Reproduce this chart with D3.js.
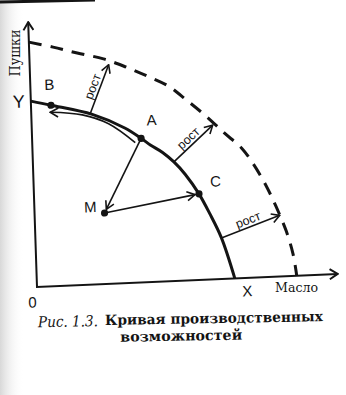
<!DOCTYPE html>
<html>
<head>
<meta charset="utf-8">
<script src="https://cdn.jsdelivr.net/npm/d3@7"></script>
<style>
  html, body { margin: 0; padding: 0; background: #fff; }
  svg { display: block; }
</style>
</head>
<body>
<div id="app"></div>
<script>
// values, in axis units (0 = origin, y up)
const frontierNow = [[0,186],[20,181],[61,170],[93,155],[109,144],[118,137],[130,129],[141,119],[152,106],[165,86],[175,66],[186,41],[198,0]];
const frontierGrowth = [[0,245],[24,239],[48,232],[74,225],[96,216],[117,206],[138,195],[156,180],[175,163],[192,146],[209,130],[220,114],[232,92],[242,69],[251,45],[257,22],[260,0]];
const pointNames = ["B", "A", "C", "M"];
const pointX = [20, 109, 165, 70];
const pointY = [181, 144, 86, 71];
const growthFrom = [[59,171],[141,119],[186,41]];
const growthTo = [[79,219],[181,154],[245,61]];
const shiftAtoB = [[103,140],[77,160],[51,170],[19,174]];
const moves = [["A","M"],["M","C"]];
const axisMax = { x: 301, y: 265 };
const axisNames = { x: "Масло", y: "Пушки" };
const captionLines = ["Кривая производственных", "возможностей"];
const captionPrefix = "Рис. 1.3.";

const W = 346, H = 395;
const ink = "#141414";

const svg = d3.select("#app").append("svg")
    .attr("width", W)
    .attr("height", H);

const defs = svg.append("defs");
// grainy gray edge of the scanned page
const grad = defs.append("linearGradient").attr("id", "edge");
grad.append("stop").attr("offset", "0%").attr("stop-color", "#b8b8b8").attr("stop-opacity", 0.55);
grad.append("stop").attr("offset", "100%").attr("stop-color", "#ffffff").attr("stop-opacity", 0);
svg.append("rect").attr("x", 0).attr("y", 0).attr("width", 24).attr("height", H).attr("fill", "url(#edge)");

function arrowMarker(id, len, half, sw) {
    defs.append("marker")
        .attr("id", id)
        .attr("viewBox", `${-len - 1} ${-half - 1} ${len + 2} ${half * 2 + 2}`)
        .attr("refX", 0).attr("refY", 0)
        .attr("markerUnits", "userSpaceOnUse")
        .attr("markerWidth", len + 2).attr("markerHeight", half * 2 + 2)
        .attr("orient", "auto")
        .append("path")
        .attr("d", `M${-len},${-half}L0,0L${-len},${half}`)
        .attr("fill", "none")
        .attr("stroke", ink)
        .attr("stroke-width", sw)
        .attr("stroke-linejoin", "miter");
}
arrowMarker("axisArrow", 8, 5, 2);
arrowMarker("smallArrow", 8, 4.5, 1.6);

// scan artifact at the top
svg.append("line").attr("x1", 0).attr("y1", 2).attr("x2", 95).attr("y2", 0)
    .attr("stroke", ink).attr("stroke-width", 3);

const x = d3.scaleLinear().domain([0, 300]).range([0, 300]);
const y = d3.scaleLinear().domain([0, 265]).range([0, -265]);

// page is slightly skewed in the scan
const chart = svg.append("g")
    .attr("transform", "matrix(0.9990,-0.0436,0.0332,0.9994,37,287)");

// axes
chart.append("path")
    .attr("d", `M${x(0)},${y(axisMax.y)}L${x(0)},${y(0)}L${x(axisMax.x)},${y(0)}`)
    .attr("fill", "none").attr("stroke", ink).attr("stroke-width", 2)
    .attr("stroke-linejoin", "miter");
chart.append("line")
    .attr("x1", x(0)).attr("y1", y(axisMax.y - 1)).attr("x2", x(0)).attr("y2", y(axisMax.y))
    .attr("stroke", ink).attr("stroke-width", 2).attr("marker-end", "url(#axisArrow)");
chart.append("line")
    .attr("x1", x(axisMax.x - 1)).attr("y1", y(0)).attr("x2", x(axisMax.x)).attr("y2", y(0))
    .attr("stroke", ink).attr("stroke-width", 2).attr("marker-end", "url(#axisArrow)");

const line = d3.line()
    .x(d => x(d[0]))
    .y(d => y(d[1]))
    .curve(d3.curveCatmullRom.alpha(0.5));

// future frontier (dashed)
chart.append("path")
    .attr("d", line(frontierGrowth))
    .attr("fill", "none").attr("stroke", ink).attr("stroke-width", 3)
    .attr("stroke-dasharray", "13 9");

// current frontier
chart.append("path")
    .attr("d", line(frontierNow))
    .attr("fill", "none").attr("stroke", ink).attr("stroke-width", 3);

// movement along the curve from A to B
chart.append("path")
    .attr("d", line(shiftAtoB))
    .attr("fill", "none").attr("stroke", ink).attr("stroke-width", 1.6)
    .attr("marker-end", "url(#smallArrow)");

// growth arrows with "рост"
growthFrom.forEach((from, i) => {
    const to = growthTo[i];
    const x1 = x(from[0]), y1 = y(from[1]), x2 = x(to[0]), y2 = y(to[1]);
    chart.append("line")
        .attr("x1", x1).attr("y1", y1).attr("x2", x2).attr("y2", y2)
        .attr("stroke", ink).attr("stroke-width", 1.6)
        .attr("marker-end", "url(#smallArrow)");
    const ang = Math.atan2(y2 - y1, x2 - x1) * 180 / Math.PI;
    const mx = (x1 + x2) / 2, my = (y1 + y2) / 2;
    chart.append("text")
        .attr("transform", `translate(${mx},${my}) rotate(${ang})`)
        .attr("y", -3)
        .attr("text-anchor", "middle")
        .attr("font-family", "Liberation Sans, Arial, sans-serif")
        .attr("font-size", 12.5)
        .attr("fill", ink)
        .text("рост");
});

// points
const pts = pointNames.map((n, i) => ({ name: n, x: pointX[i], y: pointY[i] }));
const byName = Object.fromEntries(pts.map(p => [p.name, p]));

// moves A -> M -> C, stopping just short of the target dot
moves.forEach(([a, b]) => {
    const p = byName[a], q = byName[b];
    const x1 = x(p.x), y1 = y(p.y), x2 = x(q.x), y2 = y(q.y);
    const len = Math.hypot(x2 - x1, y2 - y1);
    const k = (len - 4) / len;
    chart.append("line")
        .attr("x1", x1).attr("y1", y1)
        .attr("x2", x1 + (x2 - x1) * k).attr("y2", y1 + (y2 - y1) * k)
        .attr("stroke", ink).attr("stroke-width", 1.6)
        .attr("marker-end", "url(#smallArrow)");
});

chart.selectAll("circle.pt")
    .data(pts)
    .join("circle")
    .classed("pt", true)
    .attr("cx", d => x(d.x))
    .attr("cy", d => y(d.y))
    .attr("r", 3.6)
    .attr("fill", ink);

const labelOffset = { A: [11, -18], B: [-1, -21], C: [17, -12], M: [-14, -7] };
chart.selectAll("text.pt")
    .data(pts)
    .join("text")
    .classed("pt", true)
    .attr("x", d => x(d.x) + labelOffset[d.name][0])
    .attr("y", d => y(d.y) + labelOffset[d.name][1])
    .attr("text-anchor", "middle")
    .attr("dominant-baseline", "central")
    .attr("font-family", "Liberation Sans, Arial, sans-serif")
    .attr("font-size", 15)
    .attr("fill", ink)
    .text(d => d.name);

// axis intercept labels
const sans = "Liberation Sans, Arial, sans-serif";
chart.append("text")
    .attr("x", x(0) - 12).attr("y", y(frontierNow[0][1]))
    .attr("text-anchor", "middle").attr("dominant-baseline", "central")
    .attr("font-family", sans).attr("font-size", 18).attr("fill", ink)
    .text("Y");
chart.append("text")
    .attr("x", x(frontierNow[frontierNow.length - 1][0]) + 12).attr("y", y(0) + 13)
    .attr("text-anchor", "middle").attr("dominant-baseline", "central")
    .attr("font-family", sans).attr("font-size", 15).attr("fill", ink)
    .text("X");
chart.append("text")
    .attr("x", x(0) - 5).attr("y", y(0) + 15)
    .attr("text-anchor", "middle").attr("dominant-baseline", "central")
    .attr("font-family", sans).attr("font-size", 15).attr("fill", ink)
    .text("0");

// axis names
const serif = "DejaVu Serif, Liberation Serif, serif";
svg.append("text")
    .attr("transform", "translate(20,53) rotate(-90)")
    .attr("text-anchor", "middle")
    .attr("font-family", serif).attr("font-size", 14).attr("fill", ink)
    .attr("textLength", 47).attr("lengthAdjust", "spacingAndGlyphs")
    .text(axisNames.y);
svg.append("text")
    .attr("x", 275).attr("y", 292)
    .attr("font-family", serif).attr("font-size", 13).attr("fill", ink)
    .attr("textLength", 43).attr("lengthAdjust", "spacingAndGlyphs")
    .text(axisNames.x);

// caption
const cap = svg.append("g").attr("transform", "rotate(-1 105 325)");
cap.append("text")
    .attr("x", 38).attr("y", 326)
    .attr("font-family", serif).attr("font-style", "italic").attr("font-size", 15).attr("fill", ink)
    .attr("textLength", 60).attr("lengthAdjust", "spacingAndGlyphs")
    .text(captionPrefix);
cap.append("text")
    .attr("x", 105).attr("y", 325)
    .attr("font-family", serif).attr("font-weight", "bold").attr("font-size", 14).attr("fill", ink)
    .attr("textLength", 218).attr("lengthAdjust", "spacingAndGlyphs")
    .text(captionLines[0]);
cap.append("text")
    .attr("x", 120).attr("y", 342)
    .attr("font-family", serif).attr("font-weight", "bold").attr("font-size", 14).attr("fill", ink)
    .attr("textLength", 122).attr("lengthAdjust", "spacingAndGlyphs")
    .text(captionLines[1]);
</script>
</body>
</html>
